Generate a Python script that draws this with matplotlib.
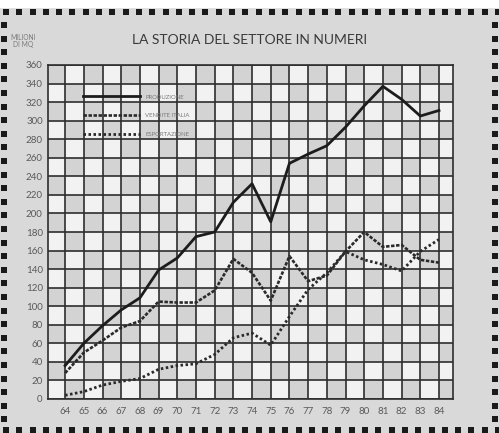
import matplotlib
matplotlib.use("Agg")
import matplotlib.pyplot as plt
import numpy as np
from matplotlib.lines import Line2D

# data (milioni di mq)
anni = list(range(64, 85))
produzione = [36, 60, 79, 96, 109, 139, 152, 175, 180, 212, 232, 191,
              254, 264, 273, 293, 316, 337, 323, 305, 311]
vendite_italia = [28, 50, 63, 77, 84, 105, 104, 104, 117, 151, 136, 106,
                  154, 127, 133, 159, 180, 164, 166, 150, 147]
esportazione = [4, 8, 15, 19, 22, 32, 36, 38, 48, 66, 71, 58,
                89, 118, 136, 159, 150, 145, 138, 159, 172]
serie_nomi = ["PRODUZIONE", "VENDITE ITALIA", "ESPORTAZIONE"]
y_ticks = list(range(0, 361, 20))

W, H = 499, 433
BG = "#d9d9d9"
INK = "#2e2e2e"
TXT = "#5a5a5a"
DASH = (0, (1.3, 0.6))
DOT = (0, (0.9, 0.9))

plt.rcParams["font.family"] = ["Lato", "DejaVu Sans"]
fig = plt.figure(figsize=(W / 100, H / 100), dpi=100, facecolor=BG)

# decorative perforated border
deco = fig.add_axes([0, 0, 1, 1])
deco.set_xlim(0, W)
deco.set_ylim(H, 0)
deco.axis("off")
deco.axhspan(0, 7, color="white", zorder=0)
xs = np.arange(6, W, 13.3)
ys = np.arange(25, 424, 13.6)
deco.scatter(xs, np.full_like(xs, 12), marker="s", s=16, color="#1a1a1a", lw=0)
deco.scatter(xs, np.full_like(xs, 430), marker="s", s=16, color="#1a1a1a", lw=0)
deco.scatter(np.full_like(ys, 4), ys, marker="s", s=14, color="#1a1a1a", lw=0)
deco.scatter(np.full_like(ys, 495), ys, marker="s", s=14, color="#1a1a1a", lw=0)

ax = fig.add_axes([48.3 / W, 1 - 399 / H, (453 - 48.3) / W, (399 - 65) / H])
x_lo, x_hi = 63.1, 84.75
ax.set_xlim(x_lo, x_hi)
ax.set_ylim(0, 360)

# checkerboard background
x_edges = np.array([x_lo] + anni + [x_hi])
y_edges = np.array(y_ticks)
ci, ri = np.meshgrid(np.arange(len(x_edges) - 1), np.arange(len(y_edges) - 1))
checker = ((ci + ri) % 2).astype(float)
ax.pcolormesh(x_edges, y_edges, checker,
              cmap=matplotlib.colors.ListedColormap(["#f2f2f2", "#d3d3d3"]),
              shading="flat", zorder=0)

ax.set_xticks(anni)
ax.set_xticklabels([str(a) for a in anni])
ax.set_yticks(y_ticks)
ax.grid(True, color=INK, linewidth=1.2, zorder=1)
ax.set_axisbelow(False)
for s in ax.spines.values():
    s.set_color(INK)
    s.set_linewidth(1.2)
ax.tick_params(length=0, labelsize=7, labelcolor=TXT)
ax.tick_params(axis="x", pad=6)
ax.tick_params(axis="y", pad=4)

ax.plot(anni, produzione, color="#1c1c1c", lw=2.0, zorder=3)
ax.plot(anni, vendite_italia, color="#2a2a2a", lw=1.9, ls=DASH, zorder=3)
ax.plot(anni, esportazione, color="#2a2a2a", lw=2.0, ls=DOT, zorder=3)

handles = [
    Line2D([], [], color="#1c1c1c", lw=2.0),
    Line2D([], [], color="#2a2a2a", lw=1.9, ls=DASH),
    Line2D([], [], color="#2a2a2a", lw=2.0, ls=DOT),
]
leg = ax.legend(handles, serie_nomi, loc="upper left", bbox_to_anchor=(0.085, 0.912),
                frameon=False, fontsize=4.3, labelcolor="#7a7a7a", handlelength=9.6,
                handletextpad=0.9, labelspacing=2.3, borderpad=0, borderaxespad=0)
leg.set_zorder(4)

fig.text(0.5, 1 - 40 / H, "LA STORIA DEL SETTORE IN NUMERI", ha="center", va="center",
         fontsize=10, color="#3a3a3a")
fig.text(23 / W, 1 - 41 / H, "MILIONI\nDI MQ", ha="center", va="center",
         fontsize=4.8, color="#7a7a7a", linespacing=1.1)

fig.savefig("out.png", dpi=100, facecolor=BG)
